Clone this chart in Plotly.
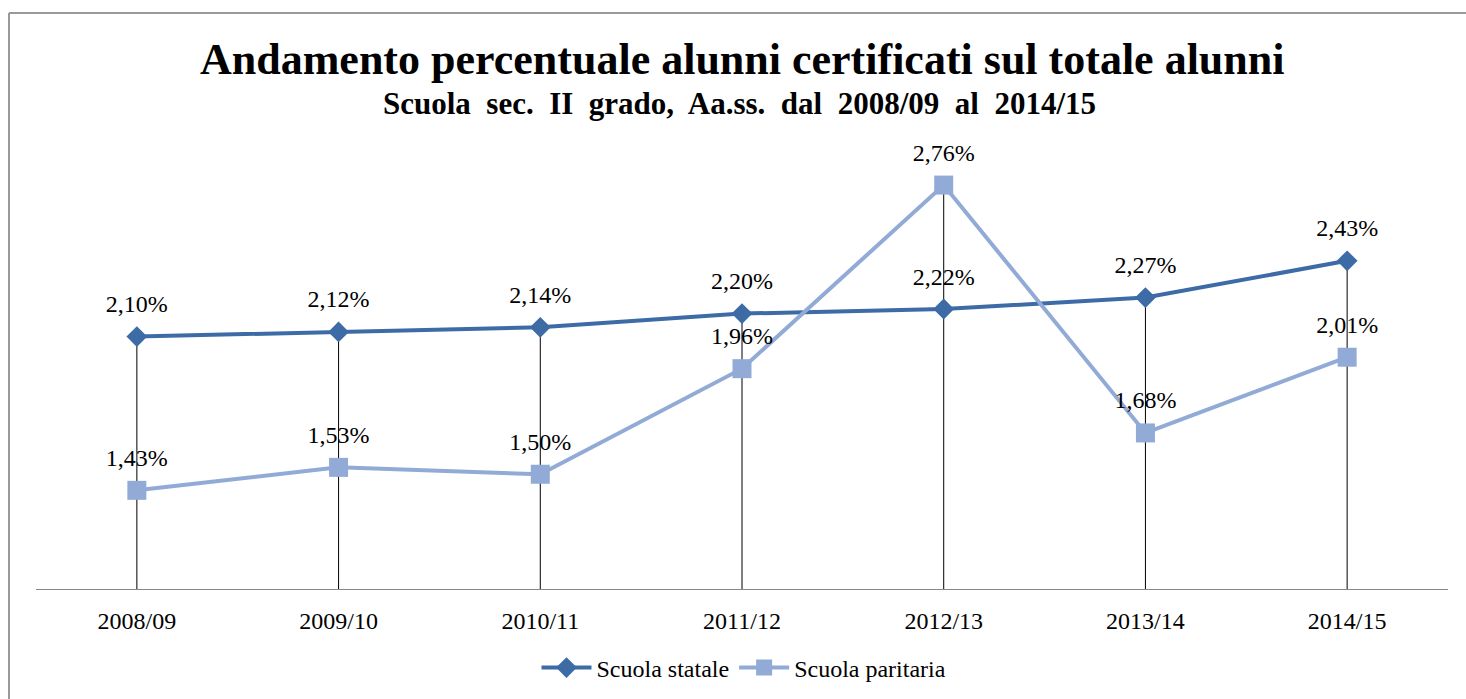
import plotly.graph_objects as go

categories = ["2008/09", "2009/10", "2010/11", "2011/12", "2012/13", "2013/14", "2014/15"]
statale = [2.10, 2.12, 2.14, 2.20, 2.22, 2.27, 2.43]
paritaria = [1.43, 1.53, 1.50, 1.96, 2.76, 1.68, 2.01]

title = "Andamento percentuale alunni certificati sul totale alunni"
subtitle = "Scuola sec. II grado, Aa.ss. dal 2008/09 al 2014/15"

SERIF = "Liberation Serif, Times New Roman, serif"
C_STAT = "#3D6BA6"
C_PAR = "#91AAD6"


def fmt(v):
    return f"{v:.2f}".replace(".", ",") + "%"


W, H = 1466, 699
L, R, T, B = 36, 18, 130, 110
pw, ph = W - L - R, H - T - B

fig = go.Figure()

# drop lines
dx, dy = [], []
for c, a, b in zip(categories, statale, paritaria):
    dx += [c, c, None]
    dy += [1.0, max(a, b), None]
fig.add_trace(go.Scatter(x=dx, y=dy, mode="lines", line=dict(color="black", width=1),
                         showlegend=False, hoverinfo="skip"))

fig.add_trace(go.Scatter(
    x=categories, y=statale, name="Scuola statale", mode="lines+markers",
    line=dict(color=C_STAT, width=4),
    marker=dict(symbol="diamond", size=16, color=C_STAT),
))
fig.add_trace(go.Scatter(
    x=categories, y=paritaria, name="Scuola paritaria", mode="lines+markers",
    line=dict(color=C_PAR, width=4),
    marker=dict(symbol="square", size=19, color=C_PAR),
))

# data labels (invisible larger markers give the label offset)
for vals in (statale, paritaria):
    fig.add_trace(go.Scatter(
        x=categories, y=vals, mode="markers+text", showlegend=False, hoverinfo="skip",
        marker=dict(size=28, opacity=0),
        text=[fmt(v) for v in vals], textposition="top center",
        textfont=dict(family=SERIF, size=24, color="black"),
    ))


def px_x(p):
    return (p - L) / pw


def px_y(p):
    return (H - B - p) / ph


sub_text = subtitle.replace(" ", "&nbsp; ")
fig.add_annotation(text="<b>" + title + "</b>", xref="paper", yref="paper",
                   x=px_x(742), y=px_y(60), xanchor="center", yanchor="middle",
                   showarrow=False, font=dict(family=SERIF, size=44, color="black"))
fig.add_annotation(text="<b>" + sub_text + "</b>", xref="paper", yref="paper",
                   x=px_x(739), y=px_y(103), xanchor="center", yanchor="middle",
                   showarrow=False, font=dict(family=SERIF, size=31, color="black"))

# frame
fig.add_shape(type="line", xref="paper", yref="paper", x0=px_x(9), x1=px_x(9),
              y0=px_y(710), y1=px_y(13), line=dict(color="#9A9A9A", width=2))
fig.add_shape(type="line", xref="paper", yref="paper", x0=px_x(9), x1=px_x(1480),
              y0=px_y(13), y1=px_y(13), line=dict(color="#9A9A9A", width=2))

fig.update_layout(
    width=W, height=H,
    margin=dict(l=L, r=R, t=T, b=B, autoexpand=False),
    paper_bgcolor="white", plot_bgcolor="white",
    font=dict(family=SERIF, color="black"),
    showlegend=True,
    legend=dict(orientation="h", xref="container", yref="container",
                x=744 / W, xanchor="center", y=1 - 668 / H, yanchor="middle",
                font=dict(family=SERIF, size=24, color="black"), itemwidth=50),
    xaxis=dict(type="category", range=[-0.5, 6.5], showgrid=False, showline=True,
               linecolor="#888888", linewidth=1, ticks="", zeroline=False,
               ticklabelstandoff=10,
               tickfont=dict(family=SERIF, size=24, color="black")),
    yaxis=dict(range=[1.0, 3.0], visible=False, showgrid=False, zeroline=False),
)

fig.write_html("out.html", post_script="document.body.style.margin='0';",
               config={"displayModeBar": False})
